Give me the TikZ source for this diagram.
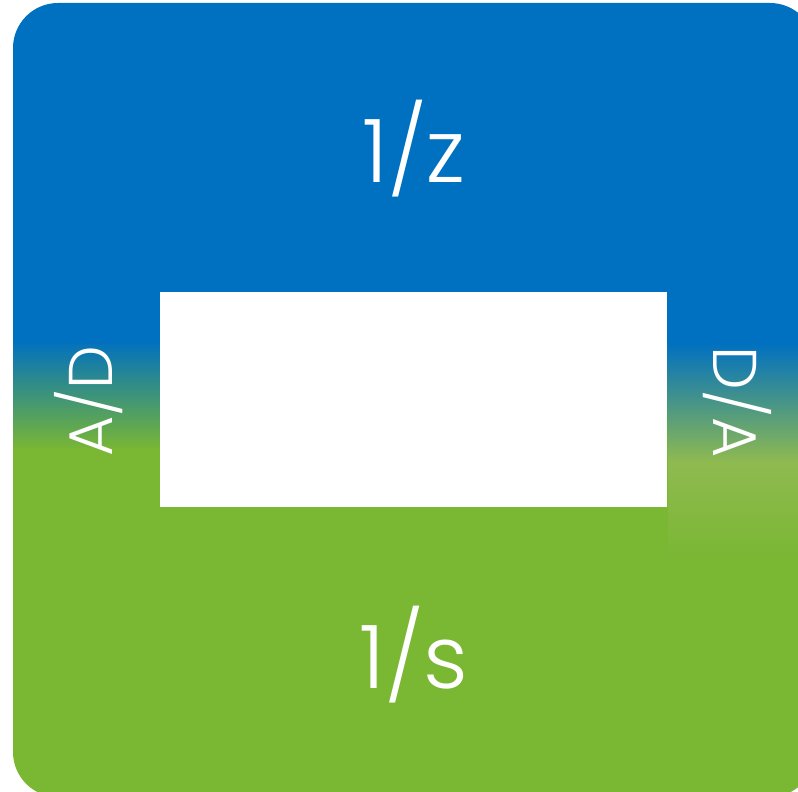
\documentclass[tikz,border=0pt]{standalone}
\usepackage{fontspec}
\setmainfont{Poppins Light}
\definecolor{cblue}{HTML}{0070C0}
\definecolor{cgreen}{HTML}{7AB733}
\definecolor{clight}{HTML}{8FBA50}
\tikzset{
  lbl/.style={text=white, inner sep=0pt, font=\fontsize{88}{88}\selectfont},
  sidelbl/.style={text=white, inner sep=0pt, font=\fontsize{62}{62}\selectfont},
}
\begin{document}
\begin{tikzpicture}[x=1bp,y=-1bp]
\useasboundingbox (0,0) rectangle (798,792);
\begin{scope}
  \clip[rounded corners=45bp] (13,3) rectangle (815,797);
  \fill[cblue] (0,0) rectangle (820,345);
  \shade[top color=cblue,bottom color=cgreen] (0,340) rectangle (668,450);
  \fill[cgreen] (0,449) rectangle (820,800);
  \shade[top color=cblue,bottom color=clight] (668,343) rectangle (820,462);
  \shade[top color=clight,bottom color=cgreen] (668,461) rectangle (820,560);
\end{scope}
\fill[white] (160,292) rectangle (667,507);
\node[lbl, anchor=base] (ztxt) at (414,182) {1/z};
\node[lbl, anchor=base] (stxt) at (414,688) {1/s};
\node[sidelbl, anchor=base, rotate=90] (adtxt) at (112,401) {A/D};
\node[sidelbl, anchor=base, rotate=-90] (datxt) at (713,402) {D/A};
\end{tikzpicture}
\end{document}
